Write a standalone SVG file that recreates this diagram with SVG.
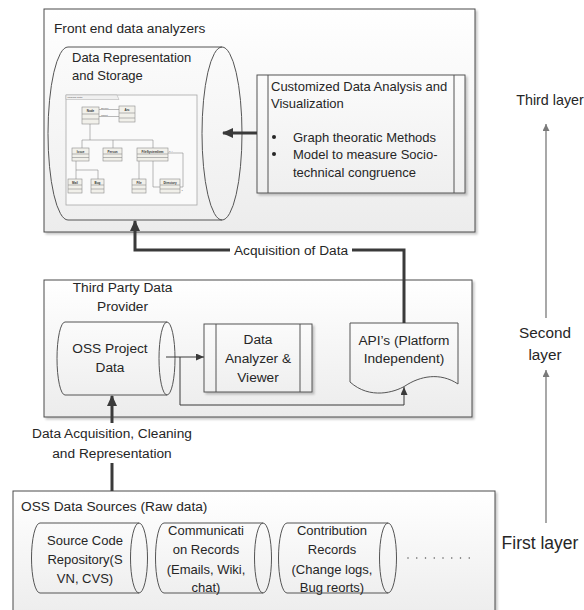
<svg xmlns="http://www.w3.org/2000/svg" width="584" height="610" viewBox="0 0 584 610">
  <defs>
    <linearGradient id="boxFill" x1="0" y1="0" x2="0" y2="1">
      <stop offset="0" stop-color="#ffffff"/>
      <stop offset="1" stop-color="#ececec"/>
    </linearGradient>
    <linearGradient id="shapeFill" x1="0" y1="0" x2="0" y2="1">
      <stop offset="0" stop-color="#fbfbfb"/>
      <stop offset="1" stop-color="#efefef"/>
    </linearGradient>
    <filter id="shadow" x="-5%" y="-5%" width="110%" height="115%">
      <feDropShadow dx="2" dy="2" stdDeviation="1" flood-color="#000" flood-opacity="0.22"/>
    </filter>
    <marker id="headThick" markerUnits="userSpaceOnUse" markerWidth="11" markerHeight="10" refX="10" refY="5" orient="auto">
      <path d="M0,0 L11,5 L0,10 z" fill="#3a3a3a"/>
    </marker>
    <marker id="headThin" markerUnits="userSpaceOnUse" markerWidth="8" markerHeight="7" refX="8" refY="3.5" orient="auto">
      <path d="M0,0 L8,3.5 L0,7 z" fill="#3a3a3a"/>
    </marker>
    <marker id="headLayer" markerUnits="userSpaceOnUse" markerWidth="7" markerHeight="8" refX="7" refY="3.5" orient="auto">
      <path d="M0,0 L7,3.5 L0,7 z" fill="#7a7a7a"/>
    </marker>
    <style>
      text { font-family: "Liberation Sans", Arial, sans-serif; fill: #262626; }
      .t14 { font-size: 13.7px; }
      .t13 { font-size: 13px; }
      .mid { text-anchor: middle; }
      .box { fill: url(#boxFill); stroke: #4a4a4a; stroke-width: 1; filter: url(#shadow); }
      .shape { fill: url(#shapeFill); stroke: #555; stroke-width: 1; }
      .proc { fill: url(#shapeFill); stroke: #555; stroke-width: 1; filter: url(#shadow); }
      .inner { fill: none; stroke: #555; stroke-width: 1; }
      .thick { fill: none; stroke: #3a3a3a; stroke-width: 3; }
      .thin { fill: none; stroke: #3a3a3a; stroke-width: 1; }
      .layer { fill: none; stroke: #7a7a7a; stroke-width: 1.3; }
      .cls { fill: #f1f0ea; stroke: #8c8c8c; stroke-width: 0.6; }
      .cl { fill: none; stroke: #8c8c8c; stroke-width: 0.6; }
      .uml { font-size: 3px; font-weight: bold; fill: #333; }
      .umls { font-size: 2.4px; fill: #555; }
    </style>
  </defs>

  <rect width="584" height="610" fill="#ffffff"/>

  <!-- Third layer: front end data analyzers -->
  <g id="front-end">
    <rect class="box" x="44" y="9" width="431" height="223"/>
    <text class="t14" x="54" y="33">Front end data analyzers</text>
  </g>

  <g id="data-representation">
    <path class="shape" d="M68,47 H222 A20,86.5 0 0 1 222,220 H68 A20,86.5 0 0 1 68,47 Z"/>
    <path class="inner" d="M222,47 A20,86.5 0 0 0 222,220"/>
    <text class="t13" x="72" y="62">Data Representation</text>
    <text class="t13" x="72" y="80">and Storage</text>

    <!-- class model picture -->
    <g id="class-model">
      <rect x="66" y="95" width="131" height="110" fill="#fafafa" stroke="#a8a8a8" stroke-width="0.8"/>
      <path d="M66,95 H117 L119,99.5 H66 Z" fill="#f0f0f0" stroke="#a8a8a8" stroke-width="0.5"/>
      <text class="umls" x="67.5" y="98.3">package Data</text>

      <!-- associations and generalizations -->
      <path class="cl" d="M99,109.5 H119 M99,116.5 H119"/>
      <text class="umls" x="101" y="108.5">Source</text>
      <text class="umls" x="101" y="115.5">Target</text>
      <path class="cl" d="M90,124 V140 M82,140 H153 M82,140 V148 M113,140 V148 M153,140 V148"/>
      <path class="cl" d="M76,161 V179 M76,170 H98 V179"/>
      <path class="cl" d="M139,161 V179 M153,161 V187 H160 M168,153 H183 V187 H180"/>
      <text class="umls" x="169" y="151.5">0..*</text>
      <text class="umls" x="181.5" y="191">1</text>

      <rect class="cls" x="82" y="107" width="17" height="17"/>
      <path class="cl" d="M82,114 H99 M82,119 H99"/>
      <text class="uml mid" x="90.5" y="112">Node</text>

      <rect class="cls" x="119" y="106" width="16" height="16"/>
      <path class="cl" d="M119,113 H135 M119,118 H135"/>
      <text class="uml mid" x="127" y="111">Arc</text>

      <rect class="cls" x="72" y="148" width="17" height="13"/>
      <path class="cl" d="M72,154 H89 M72,157.5 H89"/>
      <text class="uml mid" x="80.5" y="152.5">Issue</text>

      <rect class="cls" x="103" y="148" width="19" height="13"/>
      <path class="cl" d="M103,154 H122 M103,157.5 H122"/>
      <text class="uml mid" x="112.5" y="152.5">Person</text>

      <rect class="cls" x="137" y="148" width="31" height="13"/>
      <path class="cl" d="M137,154 H168 M137,157.5 H168"/>
      <text class="uml mid" x="152.5" y="152.5">FileSystemItem</text>

      <rect class="cls" x="68" y="179" width="14" height="14"/>
      <path class="cl" d="M68,185 H82 M68,189 H82"/>
      <text class="uml mid" x="75" y="183.5">Mail</text>

      <rect class="cls" x="91" y="179" width="13" height="14"/>
      <path class="cl" d="M91,185 H104 M91,189 H104"/>
      <text class="uml mid" x="97.5" y="183.5">Bug</text>

      <rect class="cls" x="132" y="179" width="14" height="14"/>
      <path class="cl" d="M132,185 H146 M132,189 H146"/>
      <text class="uml mid" x="139" y="183.5">File</text>

      <rect class="cls" x="160" y="179" width="20" height="14"/>
      <path class="cl" d="M160,185 H180 M160,189 H180"/>
      <text class="uml mid" x="170" y="183.5">Directory</text>
    </g>
  </g>

  <g id="customized-analysis">
    <rect class="proc" x="257" y="75" width="208" height="118"/>
    <path class="inner" d="M268,75 V193 M454,75 V193"/>
    <text class="t13" x="271" y="91">Customized Data Analysis and</text>
    <text class="t13" x="271" y="108">Visualization</text>
    <circle cx="274" cy="137" r="2" fill="#262626"/>
    <circle cx="274" cy="154" r="2" fill="#262626"/>
    <text class="t13" x="293" y="141.5">Graph theoratic Methods</text>
    <text class="t13" x="293" y="158.5">Model to measure Socio-</text>
    <text class="t13" x="293" y="176.5">technical congruence</text>
  </g>

  <!-- Second layer: third party data provider -->
  <g id="third-party">
    <rect class="box" x="44" y="280" width="428" height="137"/>
    <text class="t14 mid" x="122.5" y="292">Third Party Data</text>
    <text class="t14 mid" x="122.5" y="311">Provider</text>
  </g>

  <g id="oss-project-data">
    <path class="shape" d="M65,322 H167 A8,36.5 0 0 1 167,395 H65 A8,36.5 0 0 1 65,322 Z"/>
    <path class="inner" d="M167,322 A8,36.5 0 0 0 167,395"/>
    <text class="t14 mid" x="110" y="353">OSS Project</text>
    <text class="t14 mid" x="110" y="371.5">Data</text>
  </g>

  <g id="data-analyzer">
    <rect class="proc" x="204" y="324" width="108" height="68"/>
    <path class="inner" d="M216,324 V392 M300,324 V392"/>
    <text class="t14 mid" x="258" y="344">Data</text>
    <text class="t14 mid" x="258" y="363">Analyzer &amp;</text>
    <text class="t14 mid" x="258" y="381.5">Viewer</text>
  </g>

  <g id="apis">
    <path class="shape" d="M350,323 H458 V384 C440,372 420,376 405,386 C395,392 370,400 350,382 Z"/>
    <text class="t14 mid" x="404" y="345">API’s (Platform</text>
    <text class="t14 mid" x="404" y="363">Independent)</text>
  </g>

  <!-- First layer: raw data sources -->
  <g id="oss-data-sources">
    <rect class="box" x="13" y="491" width="482" height="130"/>
    <text class="t14" x="21" y="511">OSS Data Sources (Raw data)</text>
  </g>

  <g id="source-code">
    <path class="shape" d="M40,523 H139 A8.5,35 0 0 1 139,593 H40 A8.5,35 0 0 1 40,523 Z"/>
    <path class="inner" d="M139,523 A8.5,35 0 0 0 139,593"/>
    <text class="t13 mid" x="85" y="544.5">Source Code</text>
    <text class="t13 mid" x="85" y="564">Repository(S</text>
    <text class="t13 mid" x="85" y="583">VN, CVS)</text>
  </g>

  <g id="communication">
    <path class="shape" d="M164,523 H263 A8.5,35 0 0 1 263,593 H164 A8.5,35 0 0 1 164,523 Z"/>
    <path class="inner" d="M263,523 A8.5,35 0 0 0 263,593"/>
    <text class="t13 mid" x="206" y="535">Communicati</text>
    <text class="t13 mid" x="206" y="554">on Records</text>
    <text class="t13 mid" x="206" y="573.5">(Emails, Wiki,</text>
    <text class="t13 mid" x="206" y="592">chat)</text>
  </g>

  <g id="contribution">
    <path class="shape" d="M287,523 H388 A8.5,35 0 0 1 388,593 H287 A8.5,35 0 0 1 287,523 Z"/>
    <path class="inner" d="M388,523 A8.5,35 0 0 0 388,593"/>
    <text class="t13 mid" x="332" y="535">Contribution</text>
    <text class="t13 mid" x="332" y="554">Records</text>
    <text class="t13 mid" x="332" y="573.5">(Change logs,</text>
    <text class="t13 mid" x="332" y="592">Bug reorts)</text>
  </g>

  <g id="more-sources">
    <line x1="408" y1="558" x2="478" y2="558" stroke="#555" stroke-width="1.5" stroke-linecap="round" stroke-dasharray="0 8.75"/>
  </g>

  <!-- layer labels -->
  <g id="layer-labels">
    <text x="550" y="105" class="mid" font-size="14.3px">Third layer</text>
    <text x="545" y="338" class="mid" font-size="15.3px">Second</text>
    <text x="545" y="360" class="mid" font-size="15.3px">layer</text>
    <text x="540" y="549" class="mid" font-size="17.5px">First layer</text>
  </g>

  <!-- connectors -->
  <g id="connectors">
    <line class="thick" x1="257" y1="133" x2="223" y2="133" marker-end="url(#headThick)"/>
    <path class="thick" d="M404,323 V250 H352"/>
    <path class="thick" d="M230,250 H135 V221" marker-end="url(#headThick)"/>
    <text class="t14 mid" x="291" y="255">Acquisition of Data</text>

    <line class="thin" x1="166" y1="357" x2="204" y2="357" marker-end="url(#headThin)"/>
    <path class="thin" d="M180,357 V405 H404 V387" marker-end="url(#headThin)"/>

    <line class="thick" x1="112" y1="491" x2="112" y2="463"/>
    <line class="thick" x1="112" y1="423" x2="112" y2="396" marker-end="url(#headThick)"/>
    <text class="t14 mid" x="112" y="438">Data Acquisition, Cleaning</text>
    <text class="t14 mid" x="112" y="458">and Representation</text>

    <line class="layer" x1="546" y1="318" x2="546" y2="124" marker-end="url(#headLayer)"/>
    <line class="layer" x1="546" y1="523" x2="546" y2="370" marker-end="url(#headLayer)"/>
  </g>
</svg>
